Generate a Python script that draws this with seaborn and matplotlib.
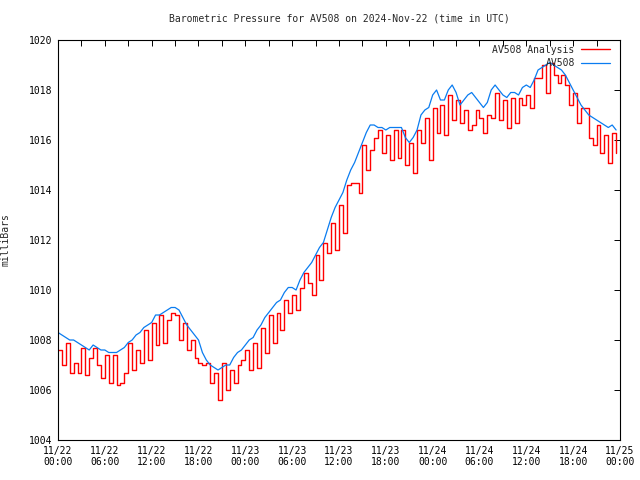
import pandas as pd
import matplotlib
matplotlib.use("Agg")
import matplotlib.pyplot as plt
import matplotlib.dates as mdates
import seaborn as sns

# half-hourly readings, 11/22 00:00 .. 11/24 23:30 UTC
station = [
    1008.3, 1008.2, 1008.1, 1008.0, 1008.0, 1007.9, 1007.8, 1007.7, 1007.6, 1007.8, 1007.7, 1007.6,
    1007.6, 1007.5, 1007.5, 1007.5, 1007.6, 1007.7, 1007.9, 1008.0, 1008.2, 1008.3, 1008.5, 1008.6,
    1008.7, 1009.0, 1009.0, 1009.1, 1009.2, 1009.3, 1009.3, 1009.2, 1008.9, 1008.6, 1008.4, 1008.2,
    1008.0, 1007.5, 1007.2, 1007.0, 1006.9, 1006.8, 1006.9, 1007.0, 1007.0, 1007.3, 1007.5, 1007.6,
    1007.8, 1008.0, 1008.1, 1008.4, 1008.6, 1008.9, 1009.1, 1009.3, 1009.5, 1009.6, 1009.9, 1010.1,
    1010.1, 1010.0, 1010.4, 1010.7, 1010.9, 1011.1, 1011.4, 1011.7, 1011.9, 1012.4, 1012.9, 1013.3,
    1013.6, 1013.9, 1014.4, 1014.8, 1015.1, 1015.5, 1015.9, 1016.3, 1016.6, 1016.6, 1016.5, 1016.5,
    1016.4, 1016.5, 1016.5, 1016.5, 1016.5, 1016.1, 1015.9, 1016.1, 1016.4, 1017.0, 1017.2, 1017.3,
    1017.8, 1018.0, 1017.6, 1017.6, 1018.0, 1018.2, 1017.9, 1017.4, 1017.6, 1017.8, 1017.9, 1017.7,
    1017.5, 1017.3, 1017.5, 1018.0, 1018.2, 1018.0, 1017.8, 1017.7, 1017.9, 1017.9, 1017.8, 1018.1,
    1018.2, 1018.1, 1018.4, 1018.8, 1018.9, 1019.0, 1019.1, 1019.0, 1018.9, 1018.8, 1018.6, 1018.3,
    1018.0, 1017.7, 1017.4, 1017.2, 1017.0, 1016.9, 1016.8, 1016.7, 1016.6, 1016.5, 1016.6, 1016.4,
]
analysis = [
    1007.6, 1007.0, 1007.9, 1006.7, 1007.1, 1006.7, 1007.7, 1006.6, 1007.3, 1007.7, 1007.0, 1006.5,
    1007.4, 1006.3, 1007.4, 1006.2, 1006.3, 1006.7, 1007.9, 1006.8, 1007.6, 1007.1, 1008.4, 1007.2,
    1008.7, 1007.8, 1009.0, 1007.9, 1008.8, 1009.1, 1009.0, 1008.0, 1008.7, 1007.6, 1008.0, 1007.3,
    1007.1, 1007.0, 1007.1, 1006.3, 1006.7, 1005.6, 1007.1, 1006.0, 1006.8, 1006.3, 1007.0, 1007.2,
    1007.6, 1006.8, 1007.9, 1006.9, 1008.5, 1007.5, 1009.0, 1007.9, 1009.1, 1008.4, 1009.6, 1009.1,
    1009.8, 1009.2, 1010.1, 1010.7, 1010.3, 1009.8, 1011.4, 1010.4, 1011.9, 1011.5, 1012.7, 1011.6,
    1013.4, 1012.3, 1014.2, 1014.3, 1014.3, 1013.9, 1015.8, 1014.8, 1015.6, 1016.1, 1016.4, 1015.5,
    1016.2, 1015.2, 1016.4, 1015.3, 1016.4, 1015.0, 1015.9, 1014.7, 1016.4, 1015.9, 1016.9, 1015.2,
    1017.3, 1016.3, 1017.4, 1016.2, 1017.8, 1016.8, 1017.6, 1016.7, 1017.2, 1016.4, 1016.6, 1017.2,
    1016.9, 1016.3, 1017.0, 1016.9, 1017.9, 1016.8, 1017.6, 1016.5, 1017.7, 1016.7, 1017.7, 1017.4,
    1017.8, 1017.3, 1018.5, 1018.5, 1019.0, 1017.9, 1019.1, 1018.6, 1018.3, 1018.6, 1018.2, 1017.4,
    1017.9, 1016.7, 1017.3, 1017.3, 1016.1, 1015.8, 1016.6, 1015.5, 1016.2, 1015.1, 1016.3, 1015.5,
]
times = pd.date_range("2024-11-22 00:00", periods=len(station), freq="30min")
df = pd.DataFrame({"time": times, "AV508": station, "AV508 Analysis": analysis})

sns.set_style("white")
plt.rcParams["font.family"] = ["DejaVu Sans Mono"]
plt.rcParams["font.size"] = 7

fig = plt.figure(figsize=(6.4, 4.8), dpi=100)
ax = fig.add_axes([58 / 640, 40 / 480, 562 / 640, 400 / 480])

sns.lineplot(data=df, x="time", y="AV508 Analysis", ax=ax, color="#ff0000",
             linewidth=1.0, drawstyle="steps-post", label="AV508 Analysis")
sns.lineplot(data=df, x="time", y="AV508", ax=ax, color="#0a7cf0",
             linewidth=0.9, label="AV508")

ax.set_xlim(pd.Timestamp("2024-11-22 00:00"), pd.Timestamp("2024-11-25 00:00"))
ax.set_ylim(1004, 1020)
ax.set_yticks(range(1004, 1021, 2))
ax.xaxis.set_major_locator(mdates.HourLocator(byhour=[0, 6, 12, 18]))
ax.xaxis.set_minor_locator(mdates.HourLocator(byhour=[3, 9, 15, 21]))
ax.xaxis.set_major_formatter(mdates.DateFormatter("%m/%d\n%H:%M"))

for s in ax.spines.values():
    s.set_color("black")
    s.set_linewidth(0.8)
ax.tick_params(which="both", direction="in", top=True, right=True,
               length=4, width=0.7, colors="black", labelsize=7, pad=4)

ax.set_xlabel("")
ax.set_ylabel("milliBars", fontsize=7)
ax.yaxis.set_label_coords(-0.085, 0.5)
ax.set_title("Barometric Pressure for AV508 on 2024-Nov-22 (time in UTC)",
             fontsize=7, pad=13)

ax.legend(loc="upper right", bbox_to_anchor=(0.993, 1.004), frameon=False,
          markerfirst=False, fontsize=7, handlelength=3.0, handletextpad=0.6,
          labelspacing=0.35, borderaxespad=0.45, borderpad=0.2)

fig.savefig("out.png", dpi=100)
